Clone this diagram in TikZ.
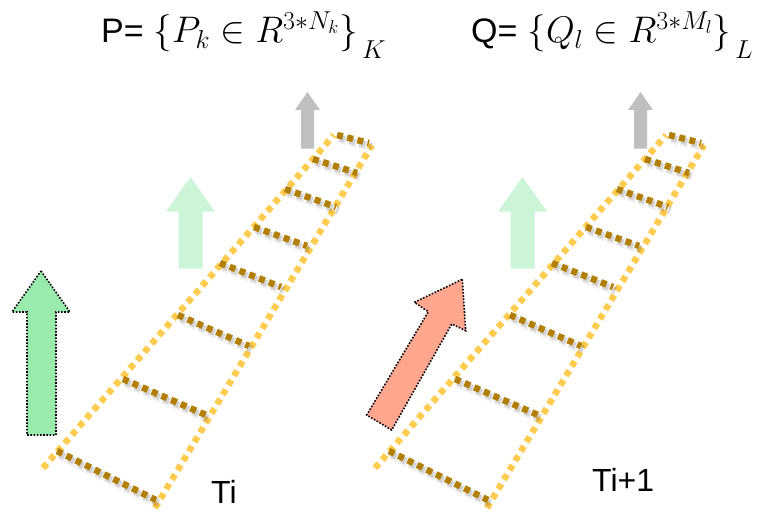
\documentclass[tikz,border=0pt]{standalone}
\usepackage{fix-cm}
\usepackage{fontspec}
\setmainfont{Liberation Sans}
\definecolor{railyellow}{RGB}{255,204,80}
\definecolor{rungbrown}{RGB}{178,126,4}
\definecolor{arrowgreen}{RGB}{153,235,173}
\definecolor{palegreen}{RGB}{204,245,216}
\definecolor{arrowgray}{RGB}{191,191,191}
\definecolor{salmon}{RGB}{255,166,143}
\tikzset{
  rail/.style={draw=railyellow, line width=6.5pt, dash pattern=on 6pt off 5pt},
  rung/.style={draw=rungbrown, line width=6.5pt, dash pattern=on 6pt off 4.5pt},
  rungshadowA/.style={draw=black, opacity=0.06, line width=9pt, dash pattern=on 8.5pt off 2pt, dash phase=1.2pt},
  rungshadowB/.style={draw=black, opacity=0.12, line width=6.5pt, dash pattern=on 6pt off 4.5pt},
  dotborder/.style={draw=black, line width=1.6pt, dash pattern=on 1.6pt off 1.6pt},
  lbl/.style={inner sep=0pt, font=\fontsize{32}{38}\selectfont},
  formula/.style={inner sep=0pt, font=\fontsize{34}{41}\selectfont},
}
\newcommand{\mathbig}{\fontsize{37}{44}\selectfont}
\begin{document}
\begin{tikzpicture}[x=1pt,y=-1pt]
\useasboundingbox (0,0) rectangle (762,516);
% ladders
\foreach \dx in {0,332}{
  \begin{scope}[xshift=\dx pt]
    \coordinate (la) at (43,468); \coordinate (lb) at (334,135);
    \coordinate (ra) at (155,508); \coordinate (rb) at (372,145);
    \draw[rail] (la) -- (lb);
    \draw[rail] (ra) -- (rb);
    \foreach \ax/\ay/\bx/\by in {337/135/369/143, 313/159/357/173, 285/189/336/207, 254/227/307/246, 220/263/281/287, 178/315/249/346, 123/379/206/415, 57/451/156/500}{
      \coordinate (ra1) at (\ax,\ay); \coordinate (rb1) at (\bx,\by);
      \draw[rungshadowA] ([shift={(3,4)}]ra1) -- ([shift={(3,4)}]rb1);
      \draw[rungshadowB] ([shift={(2,3)}]ra1) -- ([shift={(2,3)}]rb1);
      \draw[rung] (ra1) -- (rb1);
    }
  \end{scope}
}
% gray arrows
\foreach \dx in {0,333}{
  \begin{scope}[xshift=\dx pt]
    \fill[arrowgray] (307.5,92) -- (320,110) -- (314,110) -- (314,148.5) -- (301,148.5) -- (301,110) -- (295,110) -- cycle;
  \end{scope}
}
% pale green arrows
\foreach \dx in {0,332}{
  \begin{scope}[xshift=\dx pt]
    \fill[palegreen] (190.5,177) -- (215,211.5) -- (202.5,211.5) -- (202.5,268.5) -- (178.5,268.5) -- (178.5,211.5) -- (166,211.5) -- cycle;
  \end{scope}
}
% green arrow
\filldraw[fill=arrowgreen, dotborder] (41,271) -- (70,312) -- (56,312) -- (56,435) -- (27,435) -- (27,312) -- (12,312) -- cycle;
% salmon arrow
\filldraw[fill=salmon, dotborder] (462.3,279.3) -- (465.7,330.7) -- (451.7,324) -- (391.7,430) -- (366.7,415) -- (428.3,311.7) -- (414.3,302.3) -- cycle;
% labels
\node[lbl, anchor=base west] (ti) at (211,503) {Ti};
\node[lbl, anchor=base west] (ti1) at (592,491) {Ti+1};
\node[formula, anchor=base west] (pset) at (101,43) {P=\hspace{10pt}{\mathbig$\bigl\{P_k \in R^{3*N_k}\bigr\}_{\,\raisebox{-5pt}{$\scriptstyle K$}}$}};
\node[formula, anchor=base west] (qset) at (471,43) {Q=\hspace{10pt}{\mathbig$\bigl\{Q_l \in R^{3*M_l}\bigr\}_{\,\raisebox{-5pt}{$\scriptstyle L$}}$}};
\end{tikzpicture}
\end{document}
